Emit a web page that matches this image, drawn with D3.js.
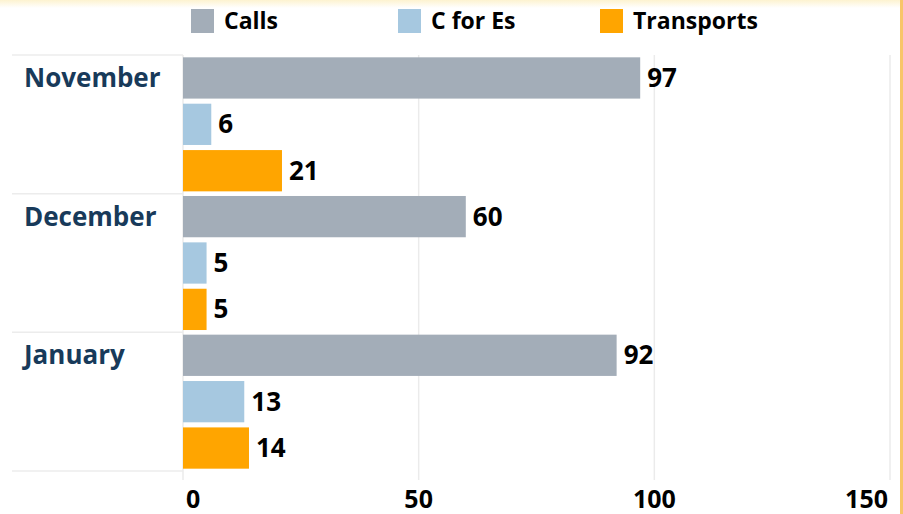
<!DOCTYPE html>
<meta charset="utf-8">
<style>

body {
  margin: 0;
  background: #fff;
}

svg text {
  font-family: "Open Sans", Lato, sans-serif;
  font-weight: 700;
}

</style>
<svg id="chart" width="903" height="514"></svg>
<script src="https://d3js.org/d3.v7.min.js"></script>
<script>

var months = ["November", "December", "January"];
var seriesNames = ["Calls", "C for Es", "Transports"];
var calls = [97, 60, 92];
var cForEs = [6, 5, 13];
var transports = [21, 5, 14];
var xTicks = [0, 50, 100, 150];
var colors = ["#a3adb8", "#a6c8e0", "#ffa500"];

var values = [calls, cForEs, transports];

var svg = d3.select("svg");

// faint yellow frame, top and right edge
var defs = svg.append("defs");
var grad = defs.append("linearGradient")
    .attr("id", "topglow")
    .attr("x1", 0).attr("y1", 0).attr("x2", 0).attr("y2", 1);
grad.append("stop").attr("offset", "0%").attr("stop-color", "#fdf3d0");
grad.append("stop").attr("offset", "100%").attr("stop-color", "#fff");
svg.append("rect")
    .attr("x", 0).attr("y", 0).attr("width", 903).attr("height", 8)
    .attr("fill", "url(#topglow)");
svg.append("rect")
    .attr("x", 900).attr("y", 0).attr("width", 3).attr("height", 514)
    .attr("fill", "#f8c56a");

var x = d3.scaleLinear()
    .domain([0, 150])
    .range([183, 890]);

var y = d3.scaleBand()
    .domain(months)
    .range([55, 471]);

var inner = d3.scaleBand()
    .domain(seriesNames)
    .range([0, y.bandwidth()])
    .paddingInner(0.11)
    .paddingOuter(0.05);

// vertical gridlines
svg.append("g")
  .selectAll("line")
  .data(xTicks)
  .enter().append("line")
    .attr("x1", function(d) { return x(d); })
    .attr("x2", function(d) { return x(d); })
    .attr("y1", 55)
    .attr("y2", 480)
    .attr("stroke", "#ebebeb")
    .attr("stroke-width", 1.5);

// row separators in the label column
svg.append("g")
  .selectAll("line")
  .data(months.map(function(m) { return y(m); }).concat([y.range()[1]]))
  .enter().append("line")
    .attr("x1", 12)
    .attr("x2", x(0))
    .attr("y1", function(d) { return d; })
    .attr("y2", function(d) { return d; })
    .attr("stroke", "#ececec")
    .attr("stroke-width", 1.5);

// month labels
svg.append("g")
  .selectAll("text")
  .data(months)
  .enter().append("text")
    .attr("x", 24)
    .attr("y", function(d) { return y(d) + 32; })
    .attr("fill", "#183a5a")
    .attr("font-size", 26)
    .text(function(d) { return d; });

// bars
var groups = svg.append("g")
  .selectAll("g")
  .data(months)
  .enter().append("g")
    .attr("transform", function(d) { return "translate(0," + y(d) + ")"; });

function rowData(d, i) {
  return seriesNames.map(function(s, j) { return {series: s, j: j, value: values[j][i]}; });
}

groups.selectAll("rect")
  .data(rowData)
  .enter().append("rect")
    .attr("x", x(0))
    .attr("y", function(d) { return inner(d.series); })
    .attr("width", function(d) { return x(d.value) - x(0); })
    .attr("height", inner.bandwidth())
    .attr("fill", function(d) { return colors[d.j]; });

groups.selectAll("text")
  .data(rowData)
  .enter().append("text")
    .attr("x", function(d) { return x(d.value) + 7; })
    .attr("y", function(d) { return inner(d.series) + inner.bandwidth() / 2 + 9; })
    .attr("font-size", 26)
    .attr("fill", "#000")
    .text(function(d) { return d.value; });

// x axis labels, first and last kept inside the plot
svg.append("g")
  .selectAll("text")
  .data(xTicks)
  .enter().append("text")
    .attr("x", function(d, i) {
      if (i === 0) return x(d) + 3;
      if (i === xTicks.length - 1) return x(d) - 2;
      return x(d);
    })
    .attr("y", 508)
    .attr("text-anchor", function(d, i) {
      if (i === 0) return "start";
      if (i === xTicks.length - 1) return "end";
      return "middle";
    })
    .attr("font-size", 25)
    .attr("fill", "#000")
    .text(function(d) { return d; });

// legend
var legendX = [191, 398, 600];
var legend = svg.append("g")
  .selectAll("g")
  .data(seriesNames)
  .enter().append("g")
    .attr("transform", function(d, i) { return "translate(" + legendX[i] + ",9)"; });

legend.append("rect")
    .attr("width", 23)
    .attr("height", 24)
    .attr("fill", function(d, i) { return colors[i]; });

legend.append("text")
    .attr("x", 33)
    .attr("y", 20)
    .attr("font-size", 23)
    .attr("fill", "#000")
    .text(function(d) { return d; });

</script>
